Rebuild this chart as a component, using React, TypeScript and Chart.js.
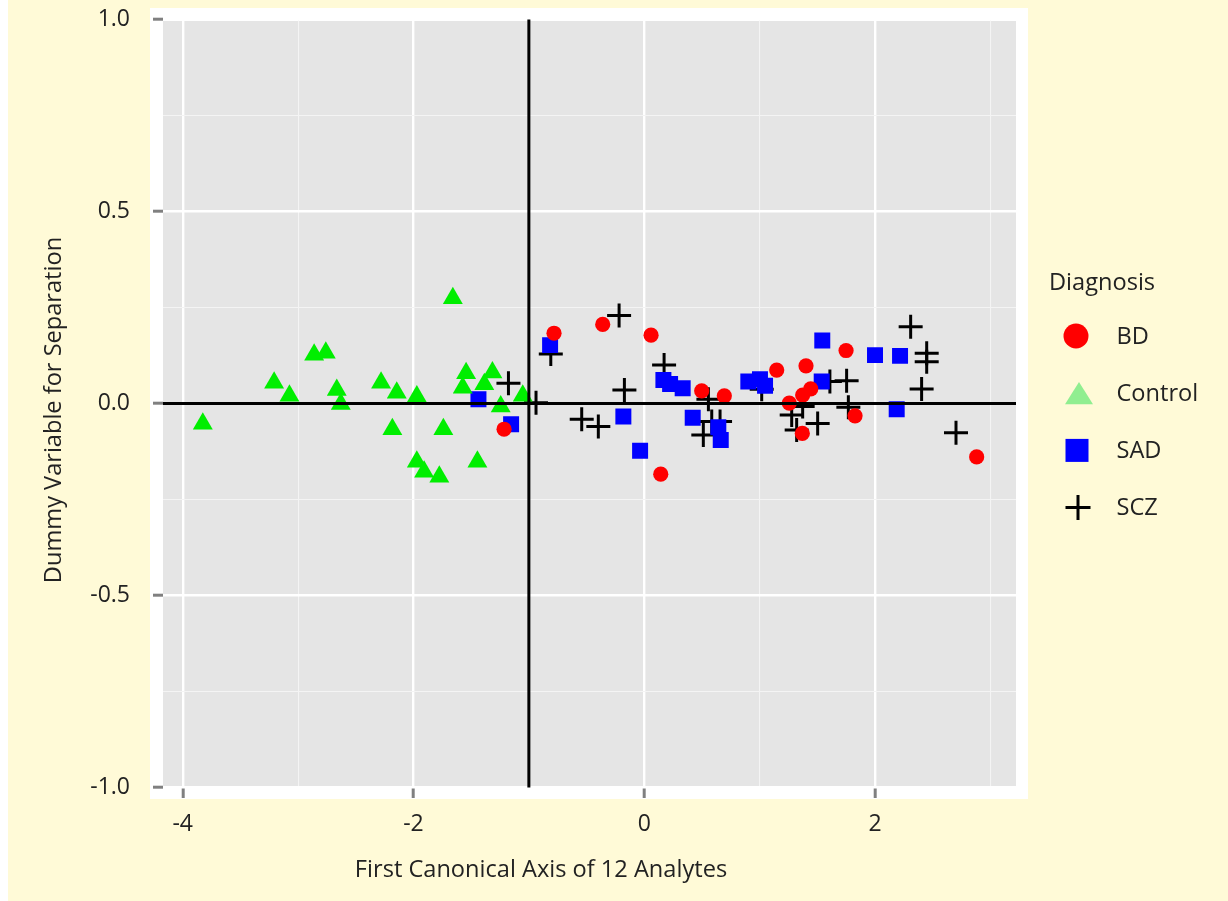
import React, { useEffect, useRef } from "react";
import { Chart, registerables } from "chart.js";

Chart.register(...registerables);

// ---------- data ----------
const seriesNames = ["BD", "Control", "SAD", "SCZ"];

const bdX = [-1.215, -0.782, -0.36, 0.059, 0.143, 0.498, 0.694, 1.148, 1.402, 1.749, 1.443, 1.373, 1.257, 1.37, 1.827, 2.881];
const bdY = [-0.067, 0.183, 0.206, 0.178, -0.184, 0.033, 0.02, 0.087, 0.098, 0.138, 0.038, 0.022, 0.001, -0.078, -0.032, -0.139];

const controlX = [-3.826, -3.208, -3.075, -2.861, -2.76, -2.665, -2.63, -2.281, -2.145, -2.183, -1.971, -1.971, -1.908, -1.776, -1.741, -1.659, -1.544, -1.573, -1.446, -1.316, -1.386, -1.244, -1.053];
const controlY = [-0.053, 0.054, 0.02, 0.127, 0.132, 0.035, -0.001, 0.054, 0.028, -0.067, 0.018, -0.152, -0.178, -0.191, -0.067, 0.274, 0.079, 0.041, -0.152, 0.081, 0.05, -0.008, 0.02];

const sadX = [-1.437, -1.154, -0.816, -0.181, -0.036, 0.166, 0.224, 0.333, 0.42, 0.642, 0.663, 0.902, 1.003, 1.047, 1.543, 1.538, 2.0, 2.217, 2.188];
const sadY = [0.011, -0.054, 0.152, -0.034, -0.123, 0.061, 0.051, 0.04, -0.037, -0.062, -0.095, 0.057, 0.063, 0.046, 0.164, 0.057, 0.126, 0.124, -0.015];

const sczX = [-1.177, -0.938, -0.81, -0.542, -0.398, -0.218, -0.172, 0.172, 0.556, 0.585, 0.657, 0.512, 1.018, 1.278, 1.321, 1.373, 1.503, 1.609, 1.754, 1.769, 2.309, 2.448, 2.448, 2.404, 2.702];
const sczY = [0.053, 0.002, 0.129, -0.041, -0.06, 0.229, 0.035, 0.1, 0.011, -0.047, -0.047, -0.082, 0.037, -0.03, -0.069, -0.008, -0.052, 0.057, 0.059, -0.01, 0.2, 0.131, 0.109, 0.038, -0.076];

const xTickValues = [-4, -3, -2, -1, 0, 1, 2, 3];
const xLabeledTicks = [-4, -2, 0, 2];
const yTickValues = [-1, -0.75, -0.5, -0.25, 0, 0.25, 0.5, 0.75, 1];
const yLabeledTicks = [-1, -0.5, 0, 0.5, 1];

const refLineX = -1;
const refLineY = 0;

const xTitle = "First Canonical Axis of 12 Analytes";
const yTitle = "Dummy Variable for Separation";
const legendTitle = "Diagnosis";

// ---------- styles ----------
const FONT = "'Open Sans', 'Noto Sans', sans-serif";
const TEXT = "#222222";
const CREAM = "#FFFAD7";
const PANEL = "#E5E5E5";
const TITLE_SIZE = 23.6;
const TICK_SIZE = 23;

const pointColors = ["#FF0000", "#00EE00", "#0000FF", "#000000"];
const legendColors = ["#FF0000", "#90EE90", "#0000FF", "#000000"];

function drawLegendSymbol(ctx: CanvasRenderingContext2D, i: number, cx: number, cy: number) {
  ctx.save();
  ctx.fillStyle = legendColors[i];
  ctx.strokeStyle = legendColors[i];
  if (i === 0) {
    ctx.beginPath();
    ctx.arc(cx - 1, cy, 12.5, 0, Math.PI * 2);
    ctx.fill();
  } else if (i === 1) {
    ctx.beginPath();
    ctx.moveTo(cx + 2, cy - 11.3);
    ctx.lineTo(cx + 16, cy + 11);
    ctx.lineTo(cx - 12, cy + 11);
    ctx.closePath();
    ctx.fill();
  } else if (i === 2) {
    ctx.fillRect(cx - 11.5, cy - 11.5, 23, 23);
  } else {
    ctx.lineWidth = 3;
    ctx.beginPath();
    ctx.moveTo(cx - 11.5, cy);
    ctx.lineTo(cx + 13.5, cy);
    ctx.moveTo(cx + 1, cy - 12.5);
    ctx.lineTo(cx + 1, cy + 12.5);
    ctx.stroke();
  }
  ctx.restore();
}

export default function App() {
  const ref = useRef<HTMLCanvasElement>(null);

  useEffect(() => {
    const canvas = ref.current;
    if (!canvas) return;
    const pts = (xs: number[], ys: number[]) => xs.map((x, i) => ({ x, y: ys[i] }));

    const panelPlugin = {
      id: "panelBg",
      beforeDraw(chart: any) {
        const { ctx, chartArea: a } = chart;
        ctx.save();
        ctx.fillStyle = CREAM;
        ctx.fillRect(0, 0, chart.width, chart.height);
        ctx.fillStyle = "#FFFFFF";
        ctx.fillRect(a.left - 13, a.top - 11.5, a.right - a.left + 25, a.bottom - a.top + 23);
        ctx.fillStyle = PANEL;
        ctx.fillRect(a.left, a.top + 1.5, a.right - a.left, a.bottom - a.top - 3);
        ctx.restore();
      },
    };

    const refLinesPlugin = {
      id: "refLines",
      afterDatasetsDraw(chart: any) {
        const { ctx, chartArea: a, scales } = chart;
        const px = scales.x.getPixelForValue(refLineX);
        const py = scales.y.getPixelForValue(refLineY);
        ctx.save();
        ctx.strokeStyle = "#000000";
        ctx.lineWidth = 3;
        ctx.beginPath();
        ctx.moveTo(px, a.top);
        ctx.lineTo(px, a.bottom);
        ctx.moveTo(a.left, py);
        ctx.lineTo(a.right, py);
        ctx.stroke();
        ctx.restore();
      },
    };

    const textPlugin = {
      id: "titlesLegend",
      afterDraw(chart: any) {
        const { ctx } = chart;
        ctx.save();
        ctx.fillStyle = TEXT;
        ctx.font = `${TITLE_SIZE}px ${FONT}`;
        ctx.textAlign = "center";
        ctx.textBaseline = "middle";
        ctx.fillText(xTitle, 533, 870);
        ctx.save();
        ctx.translate(46, 410);
        ctx.rotate(-Math.PI / 2);
        ctx.fillText(yTitle, 0, 0);
        ctx.restore();

        ctx.textAlign = "left";
        ctx.fillText(legendTitle, 1041, 283);
        seriesNames.forEach((name, i) => {
          const cy = 336 + i * 57.2;
          drawLegendSymbol(ctx, i, 1069, cy);
          ctx.fillStyle = TEXT;
          ctx.fillText(name, 1108.5, cy + 1);
        });
        ctx.restore();
      },
    };

    const isMajorX = (v: number) => xLabeledTicks.includes(v);
    const isMajorY = (v: number) => yLabeledTicks.includes(v);

    const chart = new Chart(canvas, {
      type: "scatter",
      data: {
        datasets: [
          {
            label: seriesNames[1],
            data: pts(controlX, controlY),
            pointStyle: "triangle",
            pointRadius: 11.5,
            backgroundColor: pointColors[1],
            borderWidth: 0,
          },
          {
            label: seriesNames[0],
            data: pts(bdX, bdY),
            pointStyle: "circle",
            pointRadius: 7.6,
            backgroundColor: pointColors[0],
            borderWidth: 0,
          },
          {
            label: seriesNames[2],
            data: pts(sadX, sadY),
            pointStyle: "rect",
            pointRadius: 11.3,
            backgroundColor: pointColors[2],
            borderWidth: 0,
          },
          {
            label: seriesNames[3],
            data: pts(sczX, sczY),
            pointStyle: "cross",
            pointRadius: 12,
            borderColor: pointColors[3],
            backgroundColor: pointColors[3],
            borderWidth: 3,
          },
        ],
      },
      options: {
        animation: false,
        responsive: false,
        events: [],
        layout: { padding: { left: 0, top: 19.5, right: 212, bottom: 0 } },
        plugins: {
          legend: { display: false },
          tooltip: { enabled: false },
        },
        scales: {
          x: {
            type: "linear",
            min: -4.171,
            max: 3.222,
            afterBuildTicks: (s: any) => {
              s.ticks = xTickValues.map((v) => ({ value: v }));
            },
            afterFit: (s: any) => {
              s.height = 113.5;
              s.paddingLeft = 0;
              s.paddingRight = 0;
              s.paddingTop = 0;
              s.paddingBottom = 0;
            },
            ticks: {
              autoSkip: false,
              maxRotation: 0,
              minRotation: 0,
              padding: 13,
              color: TEXT,
              font: { family: FONT, size: TICK_SIZE },
              callback: (v: any) => (isMajorX(Number(v)) ? String(v) : ""),
            },
            grid: {
              color: (c: any) => (c.tick && isMajorX(c.tick.value) ? "#FFFFFF" : "#F4F4F4"),
              lineWidth: (c: any) => (c.tick && isMajorX(c.tick.value) ? 2.4 : 1.1),
              tickColor: (c: any) => (c.tick && isMajorX(c.tick.value) ? "#808080" : "rgba(0,0,0,0)"),
              tickLength: 10.5,
              tickWidth: 3,
            },
            border: { display: false },
          },
          y: {
            type: "linear",
            min: -1,
            max: 1,
            afterBuildTicks: (s: any) => {
              s.ticks = yTickValues.map((v) => ({ value: v }));
            },
            afterFit: (s: any) => {
              s.width = 155;
              s.paddingLeft = 0;
              s.paddingRight = 0;
              s.paddingTop = 0;
              s.paddingBottom = 0;
            },
            ticks: {
              autoSkip: false,
              padding: 23,
              color: TEXT,
              font: { family: FONT, size: TICK_SIZE },
              callback: (v: any) => (isMajorY(Number(v)) ? Number(v).toFixed(1) : ""),
            },
            grid: {
              color: (c: any) => (c.tick && isMajorY(c.tick.value) ? "#FFFFFF" : "#F4F4F4"),
              lineWidth: (c: any) => (c.tick && isMajorY(c.tick.value) ? 2.4 : 1.1),
              tickColor: (c: any) => (c.tick && isMajorY(c.tick.value) ? "#808080" : "rgba(0,0,0,0)"),
              tickLength: 10,
              tickWidth: 3,
            },
            border: { display: false },
          },
        },
      },
      plugins: [panelPlugin, refLinesPlugin, textPlugin],
    } as any);

    return () => chart.destroy();
  }, []);

  return (
    <div
      style={{
        position: "absolute",
        left: 8,
        top: 0,
        width: 1220,
        height: 901,
        background: CREAM,
      }}
    >
      <canvas ref={ref} width={1220} height={901} style={{ width: 1220, height: 901, display: "block" }} />
    </div>
  );
}
